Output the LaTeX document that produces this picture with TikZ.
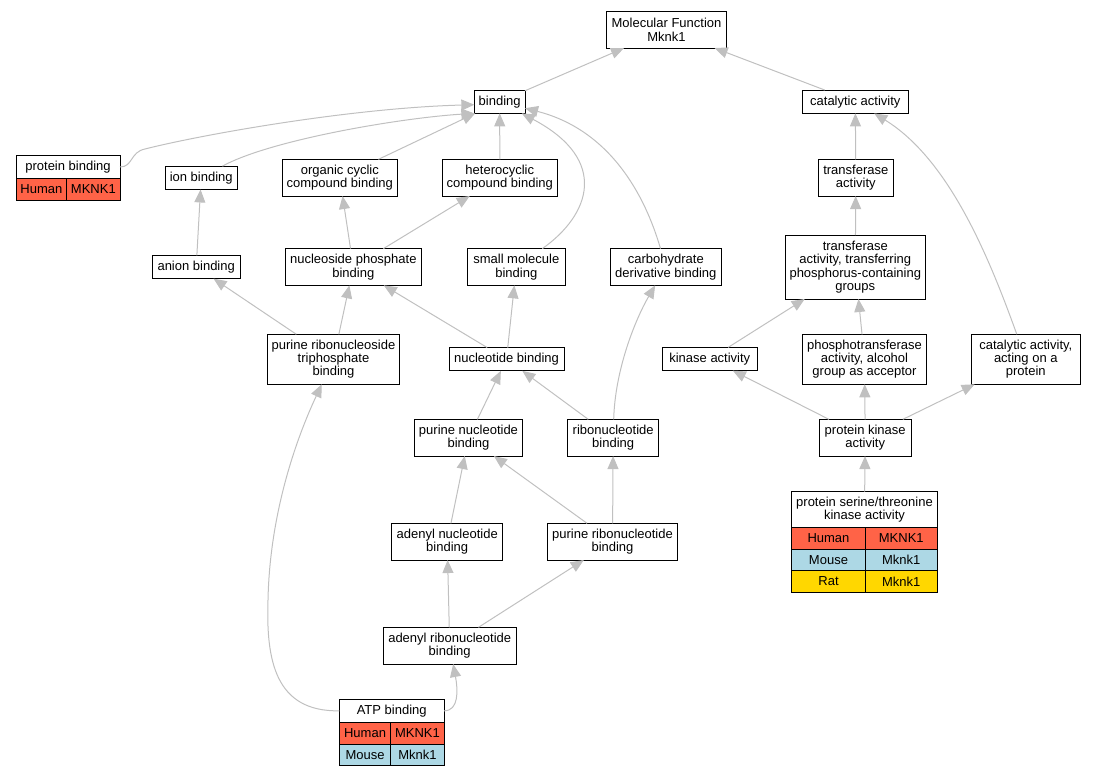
\PassOptionsToPackage{svgnames}{xcolor}
\documentclass[tikz,border=0pt]{standalone}
\usepackage{fontspec}
\setmainfont{Liberation Sans}
\usepackage{tikz}
\usetikzlibrary{positioning, arrows.meta}

\begin{document}
\begin{tikzpicture}[x=1pt, y=-1pt,
    term/.style={draw, fill=white, align=center, inner xsep=3pt, inner ysep=0pt, outer sep=0pt,
        line width=0.9pt, font=\fontsize{13}{13.3}\selectfont},
    t1/.style={term, minimum height=23.3pt},
    t2/.style={term, minimum height=36.7pt},
    t3/.style={term, minimum height=50pt},
    t4/.style={term, minimum height=64pt},
    cell/.style={term, inner xsep=0pt, minimum height=21.7pt},
    isa/.style={draw=Silver, line width=1pt, -{Triangle[length=13pt, width=11pt]}}]
    \useasboundingbox (0,0) rectangle (1095,776);

    % GO terms
    \node[t2, minimum width=120pt] (mf) at (666.5,29.7) {Molecular Function\\Mknk1};
    \node[t1, minimum width=50.7pt] (bind) at (499.7,101.7) {binding};
    \node[t1, minimum width=106pt] (cat) at (855.3,101.7) {catalytic activity};
    \node[t1, minimum width=104pt] (pb) at (68,167) {protein binding};
    \node[t1, minimum width=72.3pt] (ion) at (201.2,177.8) {ion binding};
    \node[t2, minimum width=115pt] (org) at (339.8,177.7) {organic cyclic\\compound binding};
    \node[t2, minimum width=115pt] (het) at (499.8,177.7) {heterocyclic\\compound binding};
    \node[t2, minimum width=75pt] (tf) at (855.8,177.7) {transferase\\activity};
    \node[t1, minimum width=87.7pt] (anion) at (196.2,267) {anion binding};
    \node[t2, minimum width=136.7pt] (np) at (353.3,267) {nucleoside phosphate\\binding};
    \node[t2, minimum width=97.3pt] (sm) at (516.3,267) {small molecule\\binding};
    \node[t2, minimum width=111.7pt] (cd) at (665.8,267) {carbohydrate\\derivative binding};
    \node[t4, minimum width=140.7pt] (tt) at (855.3,267) {transferase\\activity, transferring\\phosphorus-containing\\groups};
    \node[t3, minimum width=131.6pt] (tp) at (333.5,359.3) {purine ribonucleoside\\triphosphate\\binding};
    \node[t1, minimum width=115pt] (nb) at (506.5,359.2) {nucleotide binding};
    \node[t1, minimum width=95pt] (kin) at (709.8,359) {kinase activity};
    \node[t3, minimum width=124.4pt] (pt) at (864.5,359.3) {phosphotransferase\\activity, alcohol\\group as acceptor};
    \node[t3, minimum width=108.3pt] (ca) at (1025.8,359.3) {catalytic activity,\\acting on a\\protein};
    \node[t2, minimum width=108.4pt] (pn) at (468.5,437.7) {purine nucleotide\\binding};
    \node[t2, minimum width=91pt] (rb) at (613.2,437.7) {ribonucleotide\\binding};
    \node[t2, minimum width=91.7pt] (pk) at (865.2,437.7) {protein kinase\\activity};
    \node[t2, minimum width=111pt] (an) at (447.2,541.7) {adenyl nucleotide\\binding};
    \node[t2, minimum width=129.6pt] (pr) at (612.5,541.7) {purine ribonucleotide\\binding};
    \node[term, minimum height=35.6pt, minimum width=145.6pt] (pst) at (864.5,509.5) {protein serine/threonine\\kinase activity};
    \node[t2, minimum width=132.7pt] (ar) at (449.7,645.7) {adenyl ribonucleotide\\binding};
    \node[t1, minimum width=104.7pt] (atp) at (391.7,710.8) {ATP binding};

    % gene tables
    \node[cell, fill=Tomato, minimum width=50.7pt, below right=0pt and 0pt of pb.south west] (pbhs) {Human};
    \node[cell, fill=Tomato, minimum width=53.3pt, right=0pt of pbhs] (pbhsg) {MKNK1};

    \node[cell, fill=Tomato, minimum width=73.6pt, below right=0pt and 0pt of pst.south west] (psths) {Human};
    \node[cell, fill=Tomato, minimum width=72pt, right=0pt of psths] (psthsg) {MKNK1};
    \node[cell, fill=LightBlue, minimum width=73.6pt, below=0pt of psths] (pstmm) {Mouse};
    \node[cell, fill=LightBlue, minimum width=72pt, right=0pt of pstmm] (pstmmg) {Mknk1};
    \node[cell, fill=Gold, minimum width=73.6pt, below=0pt of pstmm] (pstrn) {Rat};
    \node[cell, fill=Gold, minimum width=72pt, right=0pt of pstrn] (pstrng) {Mknk1};

    \node[cell, fill=Tomato, minimum width=51.4pt, below right=0pt and 0pt of atp.south west] (atphs) {Human};
    \node[cell, fill=Tomato, minimum width=53.3pt, right=0pt of atphs] (atphsg) {MKNK1};
    \node[cell, fill=LightBlue, minimum width=51.4pt, below=0pt of atphs] (atpmm) {Mouse};
    \node[cell, fill=LightBlue, minimum width=53.3pt, right=0pt of atpmm] (atpmmg) {Mknk1};

    % is_a edges
    \draw[isa] (bind) -- (mf);
    \draw[isa] (cat) -- (mf);
    \draw[isa] (pb.east) .. controls (133,167) and (130,152) .. (145,149) .. controls (200,135) and (350,108) .. ([yshift=-3pt]bind.west);
    \draw[isa] (ion) .. controls (270,140) and (400,118) .. (bind.south west);
    \draw[isa] (org) -- (bind);
    \draw[isa] (het) -- (bind);
    \draw[isa] (sm) .. controls (590,215) and (610,160) .. (bind);
    \draw[isa] (cd) .. controls (645,195) and (610,130) .. (bind);
    \draw[isa] (tf) -- (cat);
    \draw[isa] (ca) .. controls (990,260) and (950,160) .. (cat);
    \draw[isa] (anion) -- (ion);
    \draw[isa] (np) -- (org);
    \draw[isa] (np) -- (het);
    \draw[isa] (tt) -- (tf);
    \draw[isa] (tp) -- (anion);
    \draw[isa] (tp) -- (np);
    \draw[isa] (nb) -- (np);
    \draw[isa] (nb) -- (sm);
    \draw[isa] (kin) -- (tt);
    \draw[isa] (pt) -- (tt);
    \draw[isa] (pn) -- (nb);
    \draw[isa] (rb) -- (nb);
    \draw[isa] (rb) .. controls (615,370) and (635,320) .. (cd);
    \draw[isa] (pk) -- (kin);
    \draw[isa] (pk) -- (pt);
    \draw[isa] (pk) -- (ca);
    \draw[isa] (an) -- (pn);
    \draw[isa] (pr) -- (pn);
    \draw[isa] (pr) -- (rb);
    \draw[isa] (pst) -- (pk);
    \draw[isa] (ar) -- (an);
    \draw[isa] (ar) -- (pr);
    \draw[isa] (atp.east) .. controls (459,711) and (458,690) .. (ar);
    \draw[isa] (atp.west) .. controls (275,712) and (266,660) .. (268,600) .. controls (270,500) and (305,420) .. (tp);

\end{tikzpicture}
\end{document}
